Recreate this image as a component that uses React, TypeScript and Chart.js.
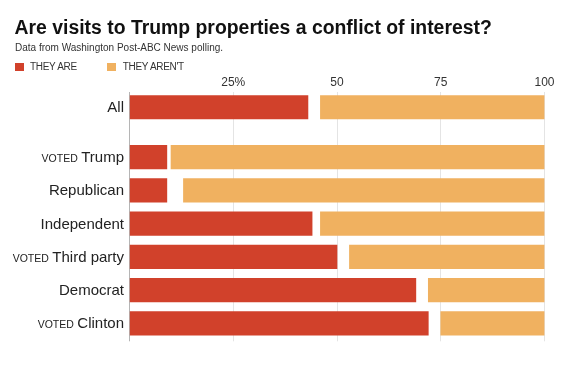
import React, { useEffect, useRef } from "react";
import { Chart, registerables } from "chart.js";

Chart.register(...registerables);

const categories = ["All", "Trump", "Republican", "Independent", "Third party", "Democrat", "Clinton"];
const prefixes = ["", "VOTED", "", "", "VOTED", "", "VOTED"];
const theyAre = [43, 9, 9, 44, 50, 69, 72];
const noAnswer = [3, 1, 4, 2, 3, 3, 3];
const theyArent = [54, 90, 87, 54, 47, 28, 25];
const xTickValues = [0, 25, 50, 75, 100];
const xTickLabels = ["", "25%", "50", "75", "100"];

const RED = "#d1412b";
const ORANGE = "#f0b160";
const FONT = "'Liberation Sans', Arial, sans-serif";

// first row stands alone, the rest form a group after a half-row gap
const rowPos = (i: number) => (i === 0 ? 0 : i + 0.5);

const labelPlugin = {
  id: "rowLabels",
  afterDraw(chart: any) {
    const ctx = chart.ctx;
    const yScale = chart.scales.y;
    const xRight = chart.chartArea.left - 5.5;
    ctx.save();
    ctx.fillStyle = "#222";
    ctx.textBaseline = "alphabetic";
    ctx.textAlign = "right";
    categories.forEach((c, i) => {
      const y = yScale.getPixelForValue(rowPos(i)) + 5;
      ctx.font = `15px ${FONT}`;
      ctx.fillText(c, xRight, y);
      const w = ctx.measureText(c).width;
      if (prefixes[i]) {
        ctx.font = `10.5px ${FONT}`;
        ctx.fillText(prefixes[i], xRight - w - 3.5, y);
      }
    });
    ctx.restore();
  },
};

export default function App() {
  const ref = useRef<HTMLCanvasElement>(null);
  useEffect(() => {
    document.body.style.margin = "0";
    const mk = (arr: number[]) => arr.map((v, i) => ({ x: v, y: rowPos(i) }));
    const chart = new Chart(ref.current!, {
      type: "bar",
      data: {
        datasets: [
          { label: "THEY ARE", data: mk(theyAre) as any, backgroundColor: RED, barThickness: 23.5 },
          { label: "NO OPINION", data: mk(noAnswer) as any, backgroundColor: "rgba(0,0,0,0)", barThickness: 23.5 },
          { label: "THEY AREN'T", data: mk(theyArent) as any, backgroundColor: ORANGE, barThickness: 23.5 },
        ],
      },
      options: {
        indexAxis: "y",
        animation: false,
        responsive: false,
        devicePixelRatio: 1,
        layout: { padding: { left: 129.5, right: 21.5, top: 73.2, bottom: 36.7 } },
        plugins: { legend: { display: false }, tooltip: { enabled: false }, title: { display: false } },
        scales: {
          x: {
            type: "linear",
            position: "top",
            min: 0,
            max: 100,
            stacked: true,
            afterBuildTicks: (s: any) => {
              s.ticks = xTickValues.map((v) => ({ value: v }));
            },
            grid: {
              drawTicks: false,
              color: (c: any) => (c.tick && c.tick.value === 0 ? "#b5b5b5" : "#e4e4e4"),
              lineWidth: 1,
            },
            border: { display: false },
            ticks: {
              padding: 2,
              color: "#333",
              font: { family: FONT, size: 12 },
              callback: (v: any) => xTickLabels[xTickValues.indexOf(Number(v))] ?? "",
              maxRotation: 0,
              autoSkip: false,
            },
          },
          y: {
            type: "linear",
            reverse: true,
            min: -0.47,
            max: 7.04,
            offset: false,
            grid: { offset: false },
            stacked: true,
            display: false,
          },
        },
      },
      plugins: [labelPlugin],
    });
    return () => chart.destroy();
  }, []);

  const txt: React.CSSProperties = { position: "absolute", whiteSpace: "nowrap", lineHeight: 1, fontFamily: FONT };
  return (
    <div style={{ position: "fixed", left: 0, top: 0, width: 566, height: 378, background: "#fff" }}>
      <canvas ref={ref} width={566} height={378} style={{ position: "absolute", left: 0, top: 0 }} />
      <div style={{ ...txt, left: 14.5, top: 17.6, fontSize: 19.4, fontWeight: "bold", color: "#111" }}>
        Are visits to Trump properties a conflict of interest?
      </div>
      <div style={{ ...txt, left: 15, top: 43.2, fontSize: 10, color: "#333" }}>
        Data from Washington Post-ABC News polling.
      </div>
      <div style={{ position: "absolute", left: 15, top: 62.5, width: 8.5, height: 8.5, background: RED }} />
      <div style={{ ...txt, left: 30, top: 62.2, fontSize: 10, color: "#333", letterSpacing: -0.3 }}>THEY ARE</div>
      <div style={{ position: "absolute", left: 107, top: 62.5, width: 8.5, height: 8.5, background: ORANGE }} />
      <div style={{ ...txt, left: 122.7, top: 62.2, fontSize: 10, color: "#333", letterSpacing: -0.3 }}>THEY AREN'T</div>
    </div>
  );
}
